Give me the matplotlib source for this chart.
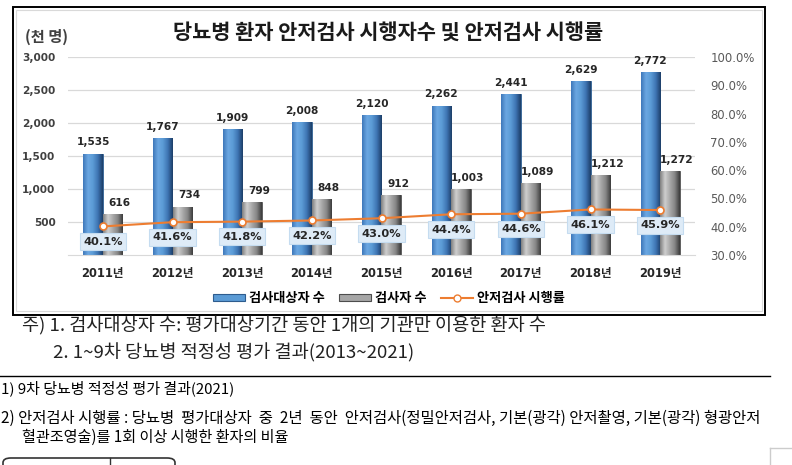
import numpy as np
import matplotlib
matplotlib.use("Agg")
import matplotlib.pyplot as plt
from matplotlib.patches import Rectangle, FancyBboxPatch
from matplotlib.lines import Line2D
from matplotlib.colors import LinearSegmentedColormap

# data
years = ['2011년', '2012년', '2013년', '2014년', '2015년', '2016년', '2017년', '2018년', '2019년']
targets = [1535, 1767, 1909, 2008, 2120, 2262, 2441, 2629, 2772]   # 검사대상자 수 (천 명)
examined = [616, 734, 799, 848, 912, 1003, 1089, 1212, 1272]      # 검사자 수 (천 명)
rate = [40.1, 41.6, 41.8, 42.2, 43.0, 44.4, 44.6, 46.1, 45.9]     # 안저검사 시행률 (%)

W, H = 792, 465
KR = ['Noto Sans CJK KR', 'DejaVu Sans']
NUM = ['DejaVu Sans', 'Noto Sans CJK KR']

def px(x):
    return x / W

def py(y):
    return 1 - y / H

fig = plt.figure(figsize=(W / 100, H / 100), dpi=100)
fig.patch.set_facecolor('white')

# chart frame
fig.patches.append(Rectangle((px(13), py(315)), px(765) - px(13), py(7) - py(315),
                             transform=fig.transFigure, fill=False, ec='black', lw=1.4))
fig.patches.append(Rectangle((px(16), py(311)), px(762) - px(16), py(10) - py(311),
                             transform=fig.transFigure, fill=False, ec='#d9d9d9', lw=0.8))

ax = fig.add_axes([px(68), py(255), px(695) - px(68), py(57) - py(255)])
x = np.arange(len(years))
bw = 0.28

blue_cm = LinearSegmentedColormap.from_list('b', ['#3f78ba', '#6ba7e2', '#5b9bd5', '#3e74b3', '#1d3f68'])
grey_cm = LinearSegmentedColormap.from_list('g', ['#808080', '#cfcfcf', '#a8a8a8', '#858585', '#3c3c3c'])
grad = np.linspace(0, 1, 64).reshape(1, -1)

b1 = ax.bar(x - bw / 2, targets, bw, color='#5b9bd5', ec='#2e5c8e', lw=0.6, zorder=2)
b2 = ax.bar(x + bw / 2, examined, bw, color='#a6a6a6', ec='#4d4d4d', lw=0.6, zorder=2)
for bars, cm in ((b1, blue_cm), (b2, grey_cm)):
    for r in bars:
        x0, w, h = r.get_x(), r.get_width(), r.get_height()
        im = ax.imshow(grad, extent=[x0, x0 + w, 0, h], aspect='auto', cmap=cm, zorder=2.5)
        im.set_clip_path(r)

for i in range(len(years)):
    ax.annotate(f'{targets[i]:,}', (x[i] - bw / 2, targets[i]), xytext=(0, 4.5),
                textcoords='offset points', ha='center', va='bottom', fontsize=7.6,
                fontweight='bold', family=NUM, color='#262626', zorder=5)
    ax.annotate(f'{examined[i]:,}', (x[i] + bw / 2 + 0.1, examined[i]), xytext=(0, 4.5),
                textcoords='offset points', ha='center', va='bottom', fontsize=7.6,
                fontweight='bold', family=NUM, color='#262626', zorder=5)

ax.set_xlim(-0.5, len(years) - 0.5)
ax.set_ylim(0, 3000)
ax.set_yticks(np.arange(500, 3001, 500))
ax.set_yticklabels([f'{v:,}' for v in range(500, 3001, 500)])
ax.grid(axis='y', color='#d9d9d9', lw=0.9, zorder=0)
ax.set_axisbelow(True)
for s in ('top', 'right', 'left'):
    ax.spines[s].set_visible(False)
ax.spines['bottom'].set_color('#d9d9d9')
ax.set_xticks(x)
ax.set_xticklabels(years)
ax.tick_params(axis='x', length=0, pad=9)
ax.tick_params(axis='y', length=0, pad=9)
for t in ax.get_xticklabels():
    t.set_family(NUM)
    t.set_fontweight('bold')
    t.set_fontsize(8.3)
    t.set_color('#262626')
for t in ax.get_yticklabels():
    t.set_family(NUM)
    t.set_fontweight('bold')
    t.set_fontsize(7.6)
    t.set_color('#404040')

ax2 = ax.twinx()
ax2.set_ylim(30, 100)
ax2.set_yticks(np.arange(30, 101, 10))
ax2.set_yticklabels([f'{v:.1f}%' for v in range(30, 101, 10)])
ax2.tick_params(axis='y', length=0, pad=11, labelsize=8.4, labelcolor='#595959')
for s in ax2.spines.values():
    s.set_visible(False)
ax2.plot(x, rate, color='#ed7d31', lw=1.5, marker='o', ms=5, mfc='white',
         mec='#ed7d31', mew=1.2, zorder=4)
for i in range(len(years)):
    ax2.annotate(f'{rate[i]:.1f}%', (x[i], rate[i]), xytext=(0, -11),
                 textcoords='offset points', ha='center', va='center', fontsize=8.2,
                 fontweight='bold', family=NUM, color='#262626', zorder=6,
                 bbox=dict(boxstyle='square,pad=0.3', fc='#deebf7', ec='#c5dcf0', lw=0.8))

# titles
fig.text(px(388), py(32), '당뇨병 환자 안저검사 시행자수 및 안저검사 시행률', ha='center', va='center',
         fontsize=15, fontweight='bold', family=KR, color='#1a1a1a')
fig.text(px(25), py(37), '(천 명)', ha='left', va='center', fontsize=11, fontweight='bold',
         family=KR, color='#404040')

# legend
handles = [Rectangle((0, 0), 1, 1, fc='#5b9bd5', ec='#2e5c8e', lw=0.8),
           Rectangle((0, 0), 1, 1, fc='#a6a6a6', ec='#4d4d4d', lw=0.8),
           Line2D([], [], color='#ed7d31', lw=1.5, marker='o', ms=5, mfc='white', mec='#ed7d31')]
fig.legend(handles, ['검사대상자 수', '검사자 수', '안저검사 시행률'], loc='center',
           bbox_to_anchor=(px(389), py(298)), ncol=3, frameon=False, handlelength=2.4,
           handleheight=0.4, handletextpad=0.3, columnspacing=1.1,
           prop={'family': KR, 'weight': 'bold', 'size': 9.5})

# notes under the chart
fig.text(px(22), py(326), '주) 1. 검사대상자 수: 평가대상기간 동안 1개의 기관만 이용한 환자 수',
         ha='left', va='center', fontsize=13.4, family=KR, color='#222222')
fig.text(px(53), py(353), '2. 1~9차 당뇨병 적정성 평가 결과(2013~2021)',
         ha='left', va='center', fontsize=13.4, family=KR, color='#222222')
fig.add_artist(Line2D([0, px(770)], [py(376), py(376)], color='black', lw=1))
fig.text(px(1), py(388), '1) 9차 당뇨병 적정성 평가 결과(2021)', ha='left', va='center',
         fontsize=10.8, family=KR, color='black')
fig.text(px(1), py(418), '2) 안저검사 시행률 : 당뇨병  평가대상자  중  2년  동안  안저검사(정밀안저검사, 기본(광각) 안저촬영, 기본(광각) 형광안저',
         ha='left', va='center', fontsize=11.1, family=KR, color='black')
fig.text(px(22), py(437), '혈관조영술)를 1회 이상 시행한 환자의 비율', ha='left', va='center',
         fontsize=10.9, family=KR, color='black')

# bits of the page below
fig.patches.append(FancyBboxPatch((px(3), py(475)), px(172), py(458) - py(475),
                                  boxstyle='round,pad=0,rounding_size=0.01',
                                  transform=fig.transFigure, fill=False, ec='#333333', lw=1.2))
fig.add_artist(Line2D([px(110), px(110)], [py(458), py(465)], color='#333333', lw=1))
fig.add_artist(Line2D([px(770), px(770)], [py(448), py(465)], color='#cccccc', lw=1))
fig.add_artist(Line2D([px(770), px(792)], [py(448), py(448)], color='#cccccc', lw=1))

fig.savefig('out.png', dpi=100)
